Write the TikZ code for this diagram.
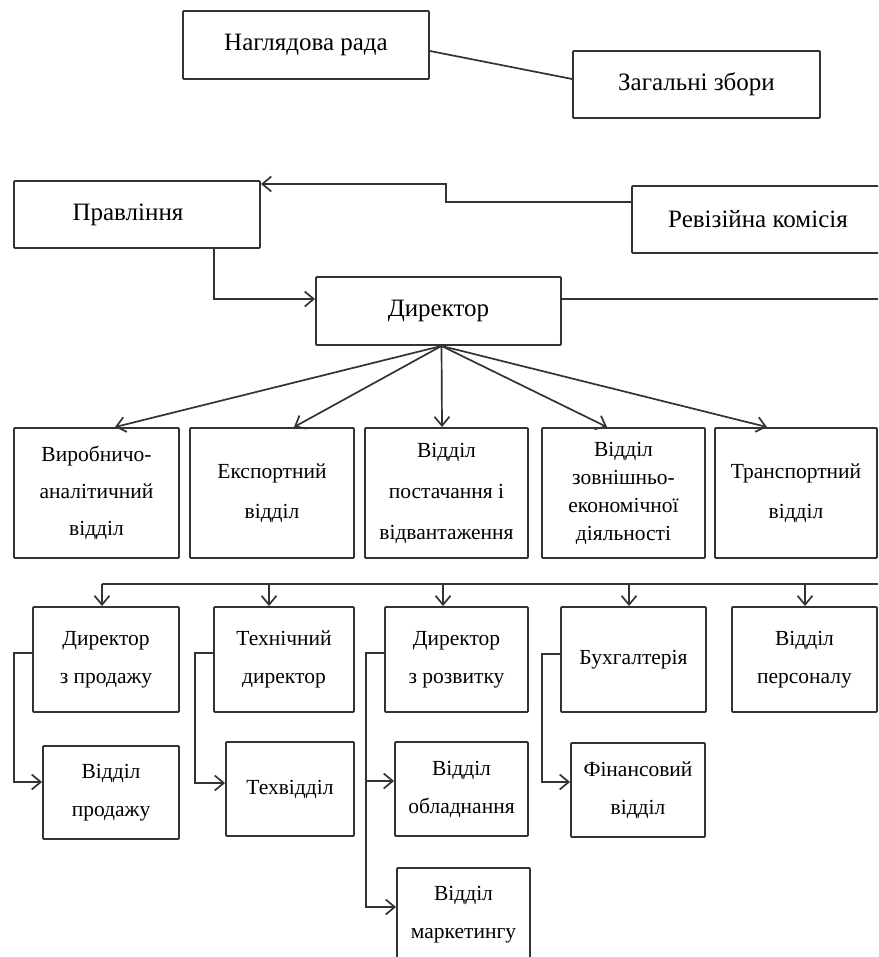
\documentclass[tikz,border=0pt]{standalone}
\usepackage{fontspec}
\setmainfont{Liberation Serif}
\usetikzlibrary{arrows.meta}
\begin{document}
\begin{tikzpicture}[x=1pt,y=-1pt,
  box/.style={draw=black!80, line width=1.9pt, rounded corners=1pt, fill=white, inner sep=0pt, align=center, text=black},
  big/.style={font=\fontsize{25}{30}\selectfont},
  small/.style={font=\fontsize{21.5}{38}\selectfont},
  conn/.style={draw=black!80, line width=1.7pt},
  arr/.style={conn, -{Straight Barb[length=9pt,width=15pt,line width=1.7pt]}},
]
\useasboundingbox (0,0) rectangle (878,957);
\clip (0,0) rectangle (878,957);

% top level
\node[box,big,minimum width=246pt,minimum height=68pt] (nr) at (306,45) {Наглядова рада};
\node[box,big,minimum width=247pt,minimum height=67pt] (zz) at (696.5,84.5) {Загальні збори};
\node[box,big,minimum width=246pt,minimum height=67pt] (pr) at (137,214.5) {\hspace*{-18pt}Правління};
\node[box,big,minimum width=252pt,minimum height=67pt] (rk) at (758,219.5) {Ревізійна комісія};
\node[box,big,minimum width=245pt,minimum height=68pt] (dir) at (438.5,311) {Директор};

% row 2
\node[box,small,font=\fontsize{21.5}{37}\selectfont,minimum width=165pt,minimum height=130pt] (b1) at (96.5,493) {Виробничо-\\аналітичний\\відділ};
\node[box,small,font=\fontsize{21.5}{40}\selectfont,minimum width=164pt,minimum height=130pt] (b2) at (272,493) {Експортний\\відділ};
\node[box,small,font=\fontsize{21.5}{41}\selectfont,minimum width=163pt,minimum height=130pt] (b3) at (446.5,493) {Відділ\\постачання і\\відвантаження};
\node[box,small,font=\fontsize{21.5}{28}\selectfont,minimum width=163pt,minimum height=130pt] (b4) at (623.5,493) {Відділ\\зовнішньо-\\економічної\\діяльності};
\node[box,small,font=\fontsize{21.5}{40}\selectfont,minimum width=162pt,minimum height=130pt] (b5) at (796,493) {Транспортний\\відділ};

% row 3
\node[box,small,minimum width=146pt,minimum height=105pt] (c1) at (106,659.5) {Директор\\з продажу};
\node[box,small,minimum width=140pt,minimum height=105pt] (c2) at (284,659.5) {Технічний\\директор};
\node[box,small,minimum width=143pt,minimum height=105pt] (c3) at (456.5,659.5) {Директор\\з розвитку};
\node[box,small,minimum width=145pt,minimum height=105pt] (c4) at (633.5,659.5) {Бухгалтерія};
\node[box,small,minimum width=145pt,minimum height=105pt] (c5) at (804.5,659.5) {Відділ\\персоналу};

% row 4
\node[box,small,minimum width=136pt,minimum height=93pt] (d1) at (111,792.5) {Відділ\\продажу};
\node[box,small,minimum width=128pt,minimum height=94pt] (d2) at (290,789) {Техвідділ};
\node[box,small,minimum width=133pt,minimum height=94pt] (d3) at (461.5,789) {Відділ\\обладнання};
\node[box,small,minimum width=134pt,minimum height=94pt] (d4) at (638,790) {Фінансовий\\відділ};
\node[box,small,minimum width=133pt,minimum height=94pt] (d5) at (463.5,915) {Відділ\\маркетингу};

% top connectors
\draw[conn] ([yshift=-6pt]nr.east) -- ([yshift=5.5pt]zz.west);

\coordinate (rkM1) at (446,202);
\coordinate (rkM2) at (446,184);
\draw[arr] (rk.west |- rkM1) -- (rkM1) -- (rkM2) -- (rkM2 -| pr.east);

\coordinate (prD) at (214,299);
\draw[arr] (prD |- pr.south) -- (prD) -- (prD -| dir.west);

\coordinate (dirR) at (878,299);
\draw[conn] (dirR -| dir.east) -- (dirR);

% fan from director
\coordinate (fan) at ([xshift=3pt]dir.south);
\draw[arr] (fan) -- ([xshift=18.5pt]b1.north);
\draw[arr] (fan) -- ([xshift=22pt]b2.north);
\draw[arr] (fan) -- ([xshift=-4.5pt]b3.north);
\draw[arr] (fan) -- ([xshift=-16.5pt]b4.north);
\draw[arr] (fan) -- ([xshift=-29pt]b5.north);

% bus
\coordinate (bus1) at (102,584);
\coordinate (bus2) at (269,584);
\coordinate (bus3) at (443,584);
\coordinate (bus4) at (629,584);
\coordinate (bus5) at (805,584);
\coordinate (busR) at (878,584);
\draw[conn] (bus1) -- (busR);
\draw[arr] (bus1) -- (bus1 |- c1.north);
\draw[arr] (bus2) -- (bus2 |- c2.north);
\draw[arr] (bus3) -- (bus3 |- c3.north);
\draw[arr] (bus4) -- (bus4 |- c4.north);
\draw[arr] (bus5) -- (bus5 |- c5.north);

% brackets
\coordinate (k1a) at (14,653);
\coordinate (k1b) at (14,782);
\draw[arr] (k1a -| c1.west) -- (k1a) -- (k1b) -- (k1b -| d1.west);

\coordinate (k2a) at (195,653);
\coordinate (k2b) at (195,783);
\draw[arr] (k2a -| c2.west) -- (k2a) -- (k2b) -- (k2b -| d2.west);

\coordinate (k3a) at (366,653);
\coordinate (k3b) at (366,781);
\coordinate (k3c) at (366,907);
\draw[arr] (k3a -| c3.west) -- (k3a) -- (k3b) -- (k3b -| d3.west);
\draw[arr] (k3b) -- (k3c) -- (k3c -| d5.west);

\coordinate (k4a) at (542,654);
\coordinate (k4b) at (542,782);
\draw[arr] (k4a -| c4.west) -- (k4a) -- (k4b) -- (k4b -| d4.west);
\end{tikzpicture}
\end{document}
